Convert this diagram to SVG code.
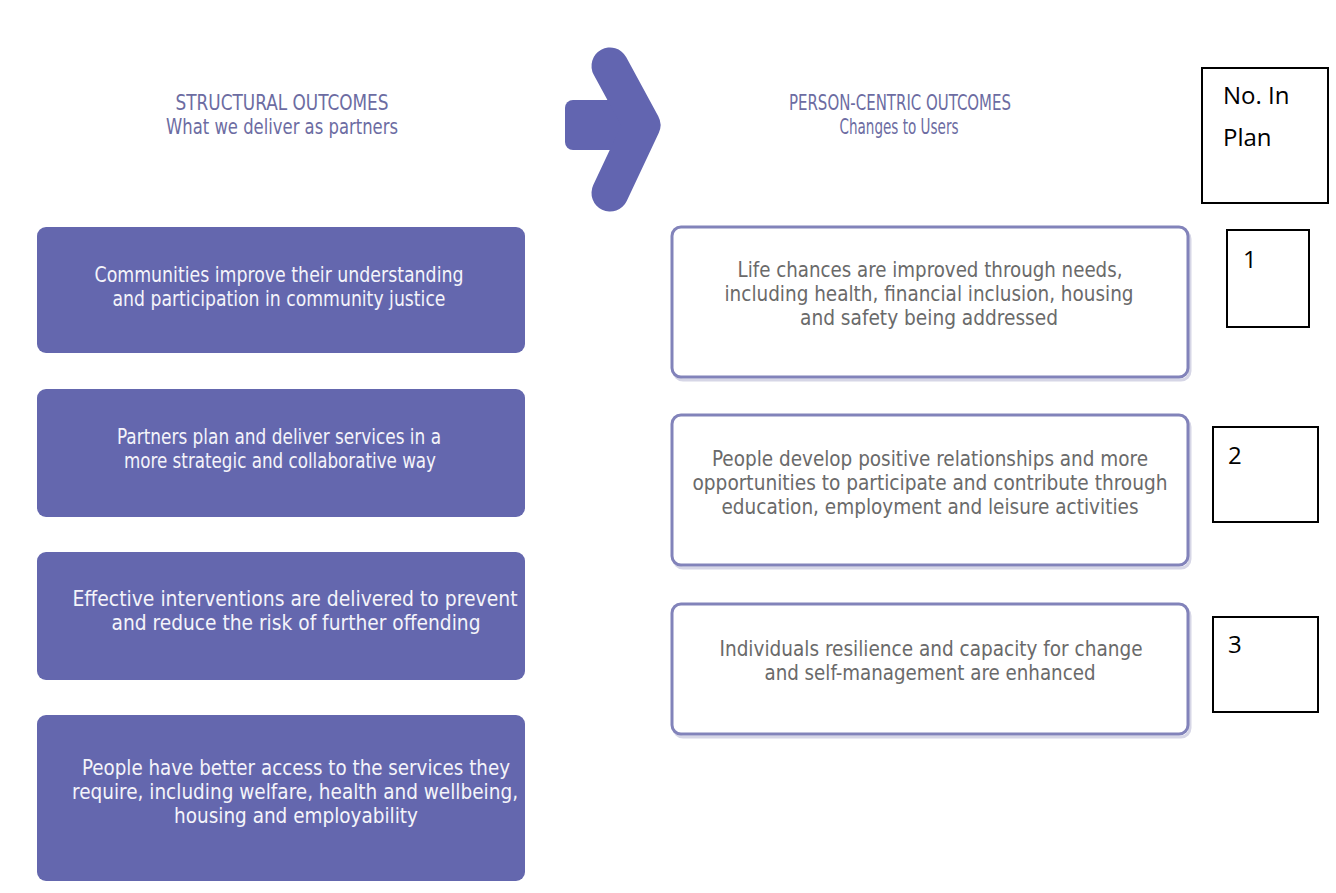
<svg xmlns="http://www.w3.org/2000/svg" width="1336" height="893" viewBox="0 0 1336 893">
<defs>
<style>
.hdr{font-family:"DejaVu Sans","Liberation Sans",sans-serif;font-stretch:condensed;font-size:21px;fill:#6c6ca2;text-anchor:middle}
.lbox{fill:#6467ae}
.ltxt{font-family:"DejaVu Sans","Liberation Sans",sans-serif;font-stretch:condensed;font-size:22px;fill:#f4f4fa;text-anchor:middle}
.rbox{fill:#ffffff;stroke:#8283ba;stroke-width:3}
.rshadow{fill:none;stroke:#d6d6e6;stroke-width:3}
.rtxt{font-family:"DejaVu Sans","Liberation Sans",sans-serif;font-stretch:condensed;font-size:22px;fill:#6a6a6a;text-anchor:middle}
.nbox{fill:#ffffff;stroke:#000000;stroke-width:2}
.ntxt{font-family:"Open Sans","Noto Sans","Liberation Sans",sans-serif;font-size:24px;fill:#000000}
.arrow{fill:#6265b0}
</style>
</defs>
<rect width="1336" height="893" fill="#ffffff"/>

<g id="header-left">
<text class="hdr" x="282" y="110" textLength="213" lengthAdjust="spacingAndGlyphs">STRUCTURAL OUTCOMES</text>
<text class="hdr" x="282" y="134" textLength="232" lengthAdjust="spacingAndGlyphs">What we deliver as partners</text>
</g>

<g id="header-right">
<text class="hdr" x="900" y="110" textLength="222" lengthAdjust="spacingAndGlyphs">PERSON-CENTRIC OUTCOMES</text>
<text class="hdr" x="899" y="134" textLength="119" lengthAdjust="spacingAndGlyphs">Changes to Users</text>
</g>

<g id="connectors">
<g id="big-arrow">
<rect class="arrow" x="565" y="100" width="70" height="50" rx="8"/>
<polyline points="610,66 642,125 610,193" fill="none" stroke="#6265b0" stroke-width="37" stroke-linecap="round" stroke-linejoin="round"/>
</g>
</g>

<g id="s1">
<rect class="lbox" x="37" y="227" width="488" height="126" rx="9"/>
<text class="ltxt" x="279" y="282" textLength="369" lengthAdjust="spacingAndGlyphs">Communities improve their understanding</text>
<text class="ltxt" x="279" y="306" textLength="333" lengthAdjust="spacingAndGlyphs">and participation in community justice</text>
</g>
<g id="s2">
<rect class="lbox" x="37" y="389" width="488" height="128" rx="9"/>
<text class="ltxt" x="279" y="444" textLength="324" lengthAdjust="spacingAndGlyphs">Partners plan and deliver services in a</text>
<text class="ltxt" x="280" y="468" textLength="312" lengthAdjust="spacingAndGlyphs">more strategic and collaborative way</text>
</g>
<g id="s3">
<rect class="lbox" x="37" y="552" width="488" height="128" rx="9"/>
<text class="ltxt" x="295" y="606" textLength="445" lengthAdjust="spacingAndGlyphs">Effective interventions are delivered to prevent</text>
<text class="ltxt" x="296" y="630" textLength="369" lengthAdjust="spacingAndGlyphs">and reduce the risk of further offending</text>
</g>
<g id="s4">
<rect class="lbox" x="37" y="715" width="488" height="166" rx="9"/>
<text class="ltxt" x="296" y="775" textLength="428" lengthAdjust="spacingAndGlyphs">People have better access to the services they</text>
<text class="ltxt" x="295" y="799" textLength="446" lengthAdjust="spacingAndGlyphs">require, including welfare, health and wellbeing,</text>
<text class="ltxt" x="296" y="823" textLength="244" lengthAdjust="spacingAndGlyphs">housing and employability</text>
</g>

<g id="p1">
<rect class="rshadow" x="674" y="230" width="516" height="150" rx="9"/>
<rect class="rbox" x="672" y="227" width="516" height="150" rx="9"/>
<text class="rtxt" x="930" y="277" textLength="385" lengthAdjust="spacingAndGlyphs">Life chances are improved through needs,</text>
<text class="rtxt" x="929" y="301" textLength="409" lengthAdjust="spacingAndGlyphs">including health, financial inclusion, housing</text>
<text class="rtxt" x="929" y="325" textLength="258" lengthAdjust="spacingAndGlyphs">and safety being addressed</text>
</g>
<g id="p2">
<rect class="rshadow" x="674" y="418" width="516" height="150" rx="9"/>
<rect class="rbox" x="672" y="415" width="516" height="150" rx="9"/>
<text class="rtxt" x="930" y="466" textLength="436" lengthAdjust="spacingAndGlyphs">People develop positive relationships and more</text>
<text class="rtxt" x="930" y="490" textLength="475" lengthAdjust="spacingAndGlyphs">opportunities to participate and contribute through</text>
<text class="rtxt" x="930" y="514" textLength="417" lengthAdjust="spacingAndGlyphs">education, employment and leisure activities</text>
</g>
<g id="p3">
<rect class="rshadow" x="674" y="607" width="516" height="130" rx="9"/>
<rect class="rbox" x="672" y="604" width="516" height="130" rx="9"/>
<text class="rtxt" x="931" y="656" textLength="423" lengthAdjust="spacingAndGlyphs">Individuals resilience and capacity for change</text>
<text class="rtxt" x="930" y="680" textLength="331" lengthAdjust="spacingAndGlyphs">and self-management are enhanced</text>
</g>

<g id="no-in-plan">
<rect class="nbox" x="1202" y="68" width="126" height="135"/>
<text class="ntxt" x="1223" y="104">No. In</text>
<text class="ntxt" x="1223" y="146">Plan</text>
</g>
<g id="n1">
<rect class="nbox" x="1227" y="230" width="82" height="97"/>
<text class="ntxt" x="1243" y="268">1</text>
</g>
<g id="n2">
<rect class="nbox" x="1213" y="427" width="105" height="95"/>
<text class="ntxt" x="1228" y="464">2</text>
</g>
<g id="n3">
<rect class="nbox" x="1213" y="617" width="105" height="95"/>
<text class="ntxt" x="1228" y="653">3</text>
</g>
</svg>
